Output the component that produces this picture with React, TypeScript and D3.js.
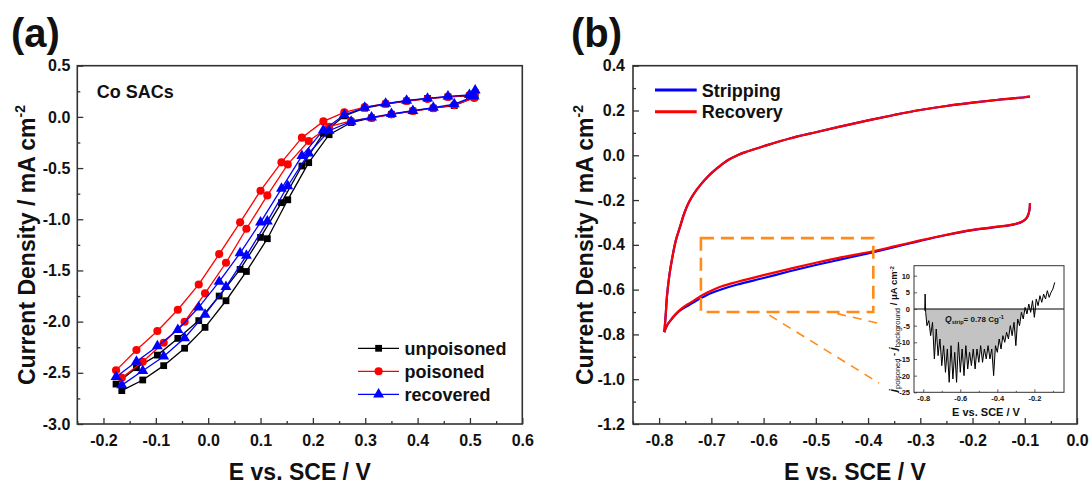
import { useEffect, useRef } from "react";
import * as d3 from "d3";

const W = 1090;
const H = 484;
const FONT = "'Liberation Sans', Arial, Helvetica, sans-serif";
const AXIS = "#333";

// ---------- panel (a): Co SACs loops (forward branch, then return branch) ----------
const aPotential = [
  -0.176, -0.137, -0.097, -0.058, -0.018, 0.021, 0.061, 0.1, 0.14, 0.179, 0.22, 0.26, 0.299, 0.339, 0.379, 0.419,
  0.458, 0.499, 0.51, 0.508, 0.47, 0.43, 0.391, 0.35, 0.312, 0.273, 0.231, 0.192, 0.152, 0.113, 0.073, 0.034,
  -0.006, -0.045, -0.085, -0.125, -0.165,
];
const unpoisoned = [
  -2.61, -2.45, -2.327, -2.164, -1.99, -1.75, -1.49, -1.177, -0.838, -0.48, -0.16, 0.01, 0.085, 0.125, 0.155, 0.18,
  0.195, 0.205, 0.22, 0.19, 0.11, 0.085, 0.058, 0.025, -0.01, -0.055, -0.174, -0.447, -0.81, -1.19, -1.51, -1.796,
  -2.056, -2.26, -2.43, -2.57, -2.674,
];
const poisoned = [
  -2.476, -2.277, -2.092, -1.884, -1.637, -1.34, -1.03, -0.721, -0.444, -0.203, -0.044, 0.045, 0.095, 0.13, 0.155,
  0.175, 0.195, 0.21, 0.24, 0.185, 0.115, 0.085, 0.057, 0.025, -0.01, -0.04, -0.096, -0.236, -0.464, -0.767, -1.093,
  -1.425, -1.724, -2.001, -2.206, -2.392, -2.548,
];
const recovered = [
  -2.54, -2.39, -2.24, -2.08, -1.86, -1.61, -1.33, -1.03, -0.7, -0.38, -0.13, 0.02, 0.09, 0.13, 0.16, 0.18, 0.2,
  0.215, 0.26, 0.2, 0.125, 0.09, 0.06, 0.03, -0.005, -0.045, -0.135, -0.356, -0.675, -1.02, -1.356, -1.66, -1.93,
  -2.16, -2.34, -2.48, -2.62,
];
const aSeries = ["unpoisoned", "poisoned", "recovered"];
const aXMajor = [-0.2, -0.1, 0.0, 0.1, 0.2, 0.3, 0.4, 0.5, 0.6];
const aXMinor = [-0.25, -0.15, -0.05, 0.05, 0.15, 0.25, 0.35, 0.45, 0.55];
const aYMajor = [-3.0, -2.5, -2.0, -1.5, -1.0, -0.5, 0.0, 0.5];
const aYMinor = [-2.75, -2.25, -1.75, -1.25, -0.75, -0.25, 0.25];

// ---------- panel (b): stripping / recovery CVs ----------
const bUpperE = [
  -0.79, -0.787, -0.785, -0.78, -0.775, -0.768, -0.76, -0.752, -0.743, -0.733, -0.72, -0.707, -0.69, -0.668, -0.65,
  -0.635, -0.6, -0.55, -0.5, -0.45, -0.4, -0.35, -0.3, -0.25, -0.2, -0.15, -0.1, -0.09,
];
const bUpperJ = [
  -0.79, -0.7, -0.63, -0.53, -0.46, -0.38, -0.32, -0.26, -0.21, -0.17, -0.13, -0.096, -0.06, -0.021, 0.0, 0.014,
  0.04, 0.075, 0.103, 0.13, 0.156, 0.18, 0.202, 0.22, 0.235, 0.248, 0.259, 0.262,
];
const bLowerE = [
  -0.79, -0.785, -0.778, -0.77, -0.759, -0.745, -0.733, -0.72, -0.7, -0.68, -0.65, -0.6, -0.55, -0.5, -0.45, -0.4,
  -0.35, -0.3, -0.25, -0.2, -0.17, -0.15, -0.13, -0.117, -0.105, -0.098, -0.094, -0.091, -0.09,
];
const strippingLowerJ = [
  -0.79, -0.76, -0.737, -0.715, -0.692, -0.672, -0.655, -0.638, -0.615, -0.598, -0.577, -0.548, -0.518, -0.49,
  -0.464, -0.438, -0.41, -0.382, -0.356, -0.334, -0.325, -0.319, -0.313, -0.307, -0.297, -0.285, -0.27, -0.245,
  -0.215,
];
const recoveryLowerJ = [
  -0.79, -0.76, -0.737, -0.713, -0.688, -0.665, -0.648, -0.628, -0.605, -0.585, -0.565, -0.535, -0.507, -0.48,
  -0.455, -0.433, -0.407, -0.38, -0.355, -0.333, -0.324, -0.318, -0.312, -0.306, -0.296, -0.284, -0.269, -0.244,
  -0.213,
];
const bSeries = ["Stripping", "Recovery"];
const bXMajor = [-0.8, -0.7, -0.6, -0.5, -0.4, -0.3, -0.2, -0.1, 0.0];
const bXMinor = [-0.85, -0.75, -0.65, -0.55, -0.45, -0.35, -0.25, -0.15, -0.05];
const bYMajor = [-1.2, -1.0, -0.8, -0.6, -0.4, -0.2, 0.0, 0.2, 0.4];
const bYMinor = [-1.1, -0.9, -0.7, -0.5, -0.3, -0.1, 0.1, 0.3];

// zoom box and its leader lines, in panel (b) data units
const zoomBox = { e0: -0.72, e1: -0.39, j0: -0.7, j1: -0.37 };
const leaderLines = [
  [[-0.589, -0.714], [-0.379, -1.017]],
  [[-0.459, -0.707], [-0.379, -0.751]],
];

// ---------- inset: j_poisoned - j_background ----------
const insetE = [
  -0.792, -0.79, -0.787, -0.78, -0.77, -0.76, -0.75, -0.74, -0.73, -0.72, -0.71, -0.7, -0.69, -0.68, -0.67, -0.66,
  -0.65, -0.64, -0.63, -0.62, -0.61, -0.6, -0.59, -0.58, -0.57, -0.56, -0.55, -0.54, -0.53, -0.52, -0.51, -0.5,
  -0.49, -0.48, -0.47, -0.46, -0.45, -0.44, -0.43, -0.42, -0.41, -0.4, -0.39, -0.38, -0.37, -0.36, -0.35, -0.34,
  -0.33, -0.32, -0.31, -0.3, -0.29, -0.28, -0.27, -0.26, -0.25, -0.24, -0.23, -0.22, -0.21, -0.2, -0.19, -0.18,
  -0.17, -0.16, -0.15, -0.14, -0.13, -0.12, -0.11, -0.1, -0.09,
];
const insetJ = [
  -0.5, 4.5, -1, -5, -3.5, -8, -4, -15, -6, -14, -9, -17, -11, -19, -12, -22, -11, -21, -13, -22, -10, -19, -12,
  -20, -11, -18, -13, -17, -12, -18, -12, -16, -11, -16, -12, -15, -11, -15, -12, -20, -11, -13, -9, -12, -8, -10,
  -7, -9, -5, -8, -4, -11, -3, -5, -1, -3, 0.5, -1.5, 1.5, -1, 2.5, -2.5, 3, 1, 4, 2, 4.5, 3, 5.5, 3.5, 5, 6, 8,
];
const insetXMajor = [-0.8, -0.6, -0.4, -0.2];
const insetXMinor = [-0.7, -0.5, -0.3, -0.1];
const insetYMajor = [10, 5, 0, -5, -10, -15, -20, -25];

type Opts = {
  xMajor: number[];
  xMinor: number[];
  yMajor: number[];
  yMinor: number[];
  xFmt: (d: number) => string;
  yFmt: (d: number) => string;
  major: number;
  minor: number;
  padX: number;
  padY: number;
  fontSize: number;
  frameW: number;
  tickW: number;
};

function frameAxes(svg: any, x: any, y: any, o: Opts) {
  const [x0, x1] = x.range();
  const [yb, yt] = y.range();
  const style = (g: any) => {
    g.select(".domain").remove();
    g.attr("color", AXIS)
      .attr("font-family", FONT)
      .attr("font-size", o.fontSize)
      .attr("font-weight", "bold");
    g.selectAll("line").attr("stroke-width", o.tickW);
    g.selectAll("text").attr("fill", "#111");
  };
  svg.append("g")
    .attr("transform", `translate(0,${yb})`)
    .call(d3.axisBottom(x).tickValues(o.xMajor).tickFormat(o.xFmt).tickSize(-o.major).tickSizeOuter(0).tickPadding(o.padX))
    .call(style);
  svg.append("g")
    .attr("transform", `translate(0,${yb})`)
    .call(d3.axisBottom(x).tickValues(o.xMinor).tickFormat(() => "").tickSize(-o.minor).tickSizeOuter(0))
    .call(style);
  svg.append("g")
    .attr("transform", `translate(${x0},0)`)
    .call(d3.axisLeft(y).tickValues(o.yMajor).tickFormat(o.yFmt).tickSize(-o.major).tickSizeOuter(0).tickPadding(o.padY))
    .call(style);
  svg.append("g")
    .attr("transform", `translate(${x0},0)`)
    .call(d3.axisLeft(y).tickValues(o.yMinor).tickFormat(() => "").tickSize(-o.minor).tickSizeOuter(0))
    .call(style);
  svg.append("rect")
    .attr("x", x0)
    .attr("y", yt)
    .attr("width", x1 - x0)
    .attr("height", yb - yt)
    .attr("fill", "none")
    .attr("stroke", AXIS)
    .attr("stroke-width", o.frameW);
}

function yTitle(svg: any, x: number, y: number) {
  const t = svg.append("text")
    .attr("transform", `translate(${x},${y}) rotate(-90)`)
    .attr("text-anchor", "middle")
    .attr("font-family", FONT)
    .attr("font-weight", "bold")
    .attr("font-size", 23)
    .attr("fill", "#111");
  t.append("tspan").text("Current Density / mA cm");
  t.append("tspan").attr("font-size", 14).attr("dy", "-0.7em").text("-2");
}

function text(svg: any, x: number, y: number, s: string, size: number, anchor = "start") {
  return svg.append("text")
    .attr("x", x)
    .attr("y", y)
    .attr("text-anchor", anchor)
    .attr("font-family", FONT)
    .attr("font-weight", "bold")
    .attr("font-size", size)
    .attr("fill", "#111")
    .text(s);
}

// plain hyphen minus, like the original figure
const fmt1 = (d: number) => (Math.abs(d) < 1e-9 ? "0.0" : d.toFixed(1));
const fmt0 = (d: number) => String(d);

export default function App() {
  const ref = useRef<SVGSVGElement | null>(null);

  useEffect(() => {
    const svg = d3.select(ref.current);
    svg.selectAll("*").remove();
    svg.append("rect").attr("width", W).attr("height", H).attr("fill", "#fff");

    // ================= panel (a) =================
    const xA = d3.scaleLinear().domain([-0.25, 0.6]).range([77.3, 522.3]);
    const yA = d3.scaleLinear().domain([-3.0, 0.5]).range([424, 65.7]);

    const colorA = d3.scaleOrdinal<string>().domain(aSeries).range(["#000000", "#ff0000", "#0000ff"]);
    const symA = d3.scaleOrdinal<any>().domain(aSeries).range([d3.symbolSquare, d3.symbolCircle, d3.symbolTriangle]);
    const sizeA = d3.scaleOrdinal<number>().domain(aSeries).range([46, 52, 52]);
    const valuesA: Record<string, number[]> = { unpoisoned, poisoned, recovered };

    const lineA = d3.line<[number, number]>().x((d) => xA(d[0])).y((d) => yA(d[1]));

    aSeries.forEach((name) => {
      const pts: [number, number][] = aPotential.map((e, i) => [e, valuesA[name][i]]);
      svg.append("path")
        .attr("d", lineA(pts))
        .attr("fill", "none")
        .attr("stroke", colorA(name))
        .attr("stroke-width", 1.3);
      svg.append("g")
        .selectAll("path")
        .data(pts)
        .join("path")
        .attr("transform", (d) => `translate(${xA(d[0])},${yA(d[1])})`)
        .attr("d", d3.symbol().type(symA(name)).size(sizeA(name))())
        .attr("fill", colorA(name));
    });

    frameAxes(svg, xA, yA, {
      xMajor: aXMajor,
      xMinor: aXMinor,
      yMajor: aYMajor,
      yMinor: aYMinor,
      xFmt: fmt1,
      yFmt: fmt1,
      major: 6,
      minor: 3,
      padX: 11,
      padY: 7,
      fontSize: 16,
      frameW: 1.6,
      tickW: 1.3,
    });

    text(svg, 96.7, 98.3, "Co SACs", 18);

    // legend (a)
    aSeries.forEach((name, i) => {
      const yy = 348.3 + i * 23;
      svg.append("line")
        .attr("x1", 358).attr("x2", 399).attr("y1", yy).attr("y2", yy)
        .attr("stroke", colorA(name)).attr("stroke-width", 1.3);
      svg.append("path")
        .attr("transform", `translate(378.6,${yy})`)
        .attr("d", d3.symbol().type(symA(name)).size(sizeA(name))())
        .attr("fill", colorA(name));
      text(svg, 404.4, yy + 6.5, name, 18);
    });

    text(svg, (77.3 + 522.3) / 2, 480, "E vs. SCE / V", 23, "middle");
    yTitle(svg, 35, 245);
    text(svg, 11, 47, "(a)", 40);

    // ================= panel (b) =================
    const xB = d3.scaleLinear().domain([-0.85, 0]).range([633, 1077]);
    const yB = d3.scaleLinear().domain([-1.2, 0.4]).range([424, 65.7]);
    const colorB = d3.scaleOrdinal<string>().domain(bSeries).range(["#0000ff", "#ff0000"]);

    const lineB = d3.line<[number, number]>().x((d) => xB(d[0])).y((d) => yB(d[1])).curve(d3.curveCatmullRom.alpha(0.5));
    const upper: [number, number][] = bUpperE.map((e, i) => [e, bUpperJ[i]]);
    const lowers: Record<string, number[]> = { Stripping: strippingLowerJ, Recovery: recoveryLowerJ };

    bSeries.forEach((name) => {
      const lower: [number, number][] = bLowerE.map((e, i) => [e, lowers[name][i]]);
      [upper, lower].forEach((pts) => {
        svg.append("path")
          .attr("d", lineB(pts))
          .attr("fill", "none")
          .attr("stroke", colorB(name))
          .attr("stroke-width", 2.2)
          .attr("stroke-linejoin", "round");
      });
    });

    frameAxes(svg, xB, yB, {
      xMajor: bXMajor,
      xMinor: bXMinor,
      yMajor: bYMajor,
      yMinor: bYMinor,
      xFmt: fmt1,
      yFmt: fmt1,
      major: 6,
      minor: 3,
      padX: 11,
      padY: 8,
      fontSize: 16,
      frameW: 1.6,
      tickW: 1.3,
    });

    // legend (b)
    bSeries.forEach((name, i) => {
      const yy = 90 + i * 21.7;
      svg.append("line")
        .attr("x1", 655).attr("x2", 696.7).attr("y1", yy).attr("y2", yy)
        .attr("stroke", colorB(name)).attr("stroke-width", 3);
      text(svg, 701.7, yy + 6.5, name, 18);
    });

    // zoom box + leader lines
    const orange = "#ff8c1a";
    svg.append("rect")
      .attr("x", xB(zoomBox.e0))
      .attr("y", yB(zoomBox.j1))
      .attr("width", xB(zoomBox.e1) - xB(zoomBox.e0))
      .attr("height", yB(zoomBox.j0) - yB(zoomBox.j1))
      .attr("fill", "none")
      .attr("stroke", orange)
      .attr("stroke-width", 2.6)
      .attr("stroke-dasharray", "13,7");
    leaderLines.forEach((l) => {
      svg.append("line")
        .attr("x1", xB(l[0][0])).attr("y1", yB(l[0][1]))
        .attr("x2", xB(l[1][0])).attr("y2", yB(l[1][1]))
        .attr("stroke", orange)
        .attr("stroke-width", 1.6)
        .attr("stroke-dasharray", "9,7");
    });

    text(svg, (633 + 1077) / 2, 480, "E vs. SCE / V", 23, "middle");
    yTitle(svg, 593, 245);
    text(svg, 571, 47, "(b)", 40);

    // ================= inset =================
    const xI = d3.scaleLinear().domain([-0.85, -0.04]).range([914, 1064]);
    const yI = d3.scaleLinear().domain([-25, 13]).range([392.3, 265.7]);
    svg.append("rect")
      .attr("x", 914).attr("y", 265.7).attr("width", 150).attr("height", 126.6)
      .attr("fill", "#fff");

    const ins: [number, number][] = insetE.map((e, i) => [e, insetJ[i]]);
    const area = d3.area<[number, number]>()
      .x((d) => xI(d[0]))
      .y0(yI(0))
      .y1((d) => yI(Math.min(0, d[1])));
    svg.append("path").attr("d", area(ins)).attr("fill", "#c3c3c3");
    svg.append("line")
      .attr("x1", 914).attr("x2", 1064).attr("y1", yI(0)).attr("y2", yI(0))
      .attr("stroke", "#000").attr("stroke-width", 1);
    svg.append("path")
      .attr("d", d3.line<[number, number]>().x((d) => xI(d[0])).y((d) => yI(d[1]))(ins))
      .attr("fill", "none")
      .attr("stroke", "#000")
      .attr("stroke-width", 1);

    frameAxes(svg, xI, yI, {
      xMajor: insetXMajor,
      xMinor: insetXMinor,
      yMajor: insetYMajor,
      yMinor: [],
      xFmt: fmt1,
      yFmt: fmt0,
      major: 3,
      minor: 1.5,
      padX: 3,
      padY: 4,
      fontSize: 7.5,
      frameW: 1,
      tickW: 0.8,
    });

    text(svg, 986, 416, "E vs. SCE / V", 11, "middle");

    const q = svg.append("text")
      .attr("x", 945).attr("y", 321.7)
      .attr("font-family", FONT).attr("font-weight", "bold").attr("font-size", 8).attr("fill", "#111");
    q.append("tspan").attr("font-style", "italic").attr("font-size", 8.5).text("Q");
    q.append("tspan").attr("font-size", 5.5).attr("dy", 2).text("strip");
    q.append("tspan").attr("dy", -2).text("= 0.78 Cg");
    q.append("tspan").attr("font-size", 5.5).attr("dy", -3).text("-1");

    const yl = svg.append("text")
      .attr("transform", `translate(897,329) rotate(-90)`)
      .attr("text-anchor", "middle")
      .attr("font-family", FONT).attr("font-weight", "bold").attr("font-size", 9.5).attr("fill", "#111");
    yl.append("tspan").attr("font-style", "italic").attr("font-size", 10.5).text("j");
    yl.append("tspan").attr("font-size", 7.5).attr("font-weight", "normal").attr("dy", 2.5).text("poisoned");
    yl.append("tspan").attr("dy", -2.5).text(" - ");
    yl.append("tspan").attr("font-style", "italic").attr("font-size", 10.5).text("j");
    yl.append("tspan").attr("font-size", 7.5).attr("font-weight", "normal").attr("dy", 2.5).text("background");
    yl.append("tspan").attr("dy", -2.5).text(" / μA cm");
    yl.append("tspan").attr("font-size", 6).attr("dy", -3.5).text("-2");
  }, []);

  return (
    <div style={{ position: "absolute", left: 0, top: 0 }}>
      <svg ref={ref} width={W} height={H} style={{ display: "block" }} />
    </div>
  );
}
